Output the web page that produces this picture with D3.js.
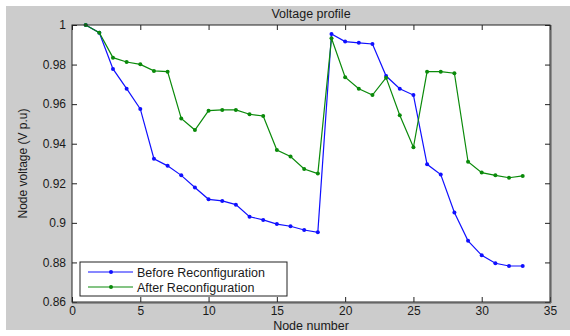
<!DOCTYPE html>
<html>
<head>
<meta charset="utf-8">
<script src="https://cdn.jsdelivr.net/npm/d3@7"></script>
<style>
  body { margin: 0; background: #fff; }
  text { font-family: "Liberation Sans", Arial, sans-serif; fill: #1a1a1a; }
</style>
</head>
<body>
<svg id="chart" width="570" height="336"></svg>
<script>
// node numbers 1..33
const nodes = d3.range(1, 34);

const beforeVals = [
  1.0, 0.9961, 0.9778, 0.9678, 0.9576, 0.9324, 0.9288, 0.9240, 0.9179, 0.9119,
  0.9111, 0.9092, 0.9031, 0.9015, 0.8994, 0.8983, 0.8964, 0.8952, 0.9955, 0.9916,
  0.9910, 0.9904, 0.9742, 0.9678, 0.9646, 0.9296, 0.9244, 0.9052, 0.8909, 0.8836,
  0.8796, 0.8782, 0.8782
];

const afterVals = [
  1.0, 0.9961, 0.9835, 0.9813, 0.9801, 0.9768, 0.9764, 0.9528, 0.9469, 0.9567,
  0.9571, 0.9571, 0.9549, 0.9540, 0.9368, 0.9335, 0.9272, 0.9249, 0.9933, 0.9736,
  0.9678, 0.9646, 0.9734, 0.9544, 0.9382, 0.9764, 0.9764, 0.9756, 0.9309, 0.9254,
  0.9240, 0.9228, 0.9237
];

const xTicks = [0, 5, 10, 15, 20, 25, 30, 35];
const yTicks = [0.86, 0.88, 0.9, 0.92, 0.94, 0.96, 0.98, 1];

const seriesNames = ['Before Reconfiguration', 'After Reconfiguration'];
const seriesColors = ['#1010ff', '#0a8a0a'];

const svg = d3.select('#chart');
const area = { left: 72, top: 25, right: 550, bottom: 302 };

// grey figure background
svg.append('rect')
  .attr('x', 6).attr('y', 6)
  .attr('width', 564).attr('height', 324)
  .attr('fill', '#cccccc');

svg.append('rect')
  .attr('x', area.left).attr('y', area.top)
  .attr('width', area.right - area.left).attr('height', area.bottom - area.top)
  .attr('fill', '#fff');

const x = d3.scaleLinear().domain([0, 35]).range([area.left, area.right]);
const y = d3.scaleLinear().domain([0.86, 1]).range([area.bottom, area.top]);

const axes = {
  bottom : d3.axisBottom(x).tickValues(xTicks).tickSize(-5).tickPadding(4).tickFormat(d3.format('d')),
  top    : d3.axisTop(x).tickValues(xTicks).tickSize(-5).tickFormat(''),
  left   : d3.axisLeft(y).tickValues(yTicks).tickSize(-5).tickPadding(6).tickFormat(d => d === 1 ? '1' : d3.format('')(+d.toFixed(2))),
  right  : d3.axisRight(y).tickValues(yTicks).tickSize(-5).tickFormat('')
};

const gBottom = svg.append('g').attr('transform', `translate(0,${area.bottom})`).call(axes.bottom);
const gTop = svg.append('g').attr('transform', `translate(0,${area.top})`).call(axes.top);
const gLeft = svg.append('g').attr('transform', `translate(${area.left},0)`).call(axes.left);
const gRight = svg.append('g').attr('transform', `translate(${area.right},0)`).call(axes.right);

[gBottom, gTop, gLeft, gRight].forEach(g => {
  g.select('.domain').remove();
  g.selectAll('line').attr('stroke', '#222');
  g.selectAll('text').attr('font-size', 12).attr('fill', '#1a1a1a')
    .attr('font-family', '"Liberation Sans", Arial, sans-serif');
});

// series
const line = d3.line().x((d, i) => x(nodes[i])).y(d => y(d));
[beforeVals, afterVals].forEach((vals, k) => {
  svg.append('path')
    .datum(vals)
    .attr('d', line)
    .attr('fill', 'none')
    .attr('stroke', seriesColors[k])
    .attr('stroke-width', 1.2);
  svg.append('g')
    .selectAll('circle')
    .data(vals)
    .enter()
    .append('circle')
    .attr('cx', (d, i) => x(nodes[i]))
    .attr('cy', d => y(d))
    .attr('r', 2)
    .attr('fill', seriesColors[k]);
});

// box
svg.append('rect')
  .attr('x', area.left).attr('y', area.top)
  .attr('width', area.right - area.left).attr('height', area.bottom - area.top)
  .attr('fill', 'none')
  .attr('stroke', '#222')
  .attr('stroke-width', 1);
svg.append('path')
  .attr('d', `M${area.right + 1},${area.top} V${area.bottom + 1} H${area.left}`)
  .attr('fill', 'none')
  .attr('stroke', '#555')
  .attr('stroke-width', 1);

// legend
const legend = svg.append('g').attr('transform', 'translate(80,262)');
legend.append('rect')
  .attr('width', 207).attr('height', 34)
  .attr('fill', '#fff').attr('stroke', '#222');
seriesNames.forEach((name, k) => {
  const ly = 10 + k * 15;
  legend.append('line')
    .attr('x1', 8).attr('x2', 53).attr('y1', ly).attr('y2', ly)
    .attr('stroke', seriesColors[k]).attr('stroke-width', 1.2);
  legend.append('circle')
    .attr('cx', 31).attr('cy', ly).attr('r', 2).attr('fill', seriesColors[k]);
  legend.append('text')
    .attr('x', 57).attr('y', ly + 4.5)
    .attr('font-size', 12.5)
    .text(name);
});

// titles
svg.append('text')
  .attr('x', (area.left + area.right) / 2).attr('y', 18)
  .attr('text-anchor', 'middle').attr('font-size', 12.5)
  .text('Voltage profile');
svg.append('text')
  .attr('x', (area.left + area.right) / 2).attr('y', 330)
  .attr('text-anchor', 'middle').attr('font-size', 12.5)
  .text('Node number');
svg.append('text')
  .attr('transform', `translate(27,${(area.top + area.bottom) / 2}) rotate(-90)`)
  .attr('text-anchor', 'middle').attr('font-size', 12)
  .text('Node voltage (V p.u)');
</script>
</body>
</html>
